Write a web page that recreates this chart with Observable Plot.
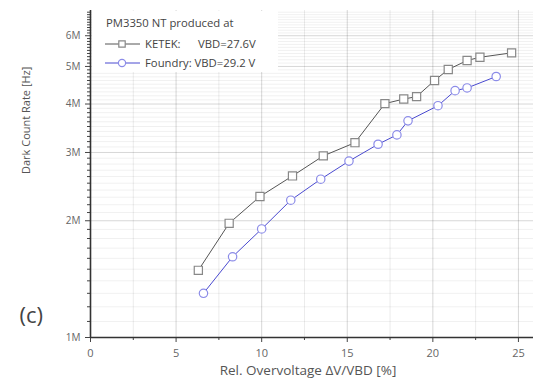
<!DOCTYPE html>
<html><head><meta charset="utf-8">
<script src="https://cdn.jsdelivr.net/npm/d3@7"></script>
<script src="https://cdn.jsdelivr.net/npm/@observablehq/plot@0.6"></script>
<style>
html,body{margin:0;padding:0;background:#fff;}
#chart svg{display:block;}
</style>
</head><body><div id="chart"></div>
<script>
// Data
const ketekX = [6.3, 8.1, 9.9, 11.8, 13.6, 15.45, 17.2, 18.3, 19.05, 20.1, 20.9, 22.0, 22.75, 24.6];
const ketekY = [1.49, 1.97, 2.31, 2.61, 2.94, 3.18, 4.01, 4.12, 4.18, 4.60, 4.91, 5.18, 5.28, 5.42]; // MHz
const foundryX = [6.6, 8.3, 10.0, 11.7, 13.45, 15.1, 16.8, 17.9, 18.55, 20.3, 21.3, 22.0, 23.7];
const foundryY = [1.30, 1.615, 1.905, 2.26, 2.56, 2.85, 3.15, 3.33, 3.62, 3.96, 4.33, 4.40, 4.71]; // MHz
const xTicks = [0, 5, 10, 15, 20, 25];
const yTicksM = [1, 2, 3, 4, 5, 6];
const legendTitle = "PM3350 NT produced at";
const seriesNames = ["KETEK:", "Foundry: VBD=29.2 V"];
const ketekVbd = "VBD=27.6V";
const xLabel = "Rel. Overvoltage \u0394V/VBD [%]";
const yLabel = "Dark Count Rate [Hz]";
const panelLabel = "(c)";

const ketek = ketekX.map((x, i) => ({x, y: ketekY[i] * 1e6}));
const foundry = foundryX.map((x, i) => ({x, y: foundryY[i] * 1e6}));
const yTicks = yTicksM.map(d => d * 1e6);
const yMinor = d3.range(10, 70).filter(d => d % 10 !== 0).map(d => d * 1e5);
const xMinor = [2.5, 7.5, 12.5, 17.5, 22.5];

const font = "'Open Sans', Lato, sans-serif";

const plot = Plot.plot({
  width: 533, height: 390,
  marginLeft: 90, marginRight: 0, marginTop: 10, marginBottom: 53,
  style: {fontFamily: font, background: "#fff", color: "#444"},
  x: {domain: [0, 25.88], label: null},
  y: {type: "log", domain: [1e6, 6.97e6], label: null},
  marks: [
    Plot.gridY(yMinor, {stroke: "#000", strokeOpacity: 0.06}),
    Plot.gridY(yTicks, {stroke: "#000", strokeOpacity: 0.16}),
    Plot.gridX(xMinor, {stroke: "#000", strokeOpacity: 0.08}),
    Plot.gridX(xTicks, {stroke: "#000", strokeOpacity: 0.16}),
    Plot.axisY(yMinor, {tickSize: 3, text: null, stroke: "#444"}),
    Plot.axisY(yTicks, {tickSize: 5, tickPadding: 5, fontSize: 10, tickFormat: d => (d / 1e6) + "M", stroke: "#444", fill: "#666"}),
    Plot.axisX(xMinor, {tickSize: 3, text: null, stroke: "#444"}),
    Plot.axisX(xTicks, {tickSize: 5, tickPadding: 7, fontSize: 11, stroke: "#444", fill: "#666"}),
    Plot.ruleX([0], {stroke: "#333", strokeWidth: 1.6}),
    Plot.ruleY([1e6], {stroke: "#333", strokeWidth: 1.6}),
    Plot.line(ketek, {x: "x", y: "y", stroke: "#555", strokeWidth: 1}),
    Plot.dot(ketek, {x: "x", y: "y", symbol: "square", r: 4.6, stroke: "#888", fill: "#fff", strokeWidth: 1.2}),
    Plot.line(foundry, {x: "x", y: "y", stroke: "#4a4ad0", strokeWidth: 1}),
    Plot.dot(foundry, {x: "x", y: "y", symbol: "circle", r: 4.2, stroke: "#8c8ce8", fill: "#fff", strokeWidth: 1.2}),
    Plot.text([yLabel], {frameAnchor: "left", dx: -64, rotate: -90, fontSize: 11, fill: "#555"}),
    Plot.text([xLabel], {frameAnchor: "bottom", dx: -4, dy: 37, fontSize: 13.5, fill: "#555"}),
    Plot.text([panelLabel], {frameAnchor: "bottom-left", dx: -71, dy: -15, fontSize: 22, fill: "#444"})
  ]
});

document.getElementById("chart").appendChild(plot);

// Legend (inside the plot, top-left)
const svg = d3.select(plot);
const g = svg.append("g").attr("font-family", font).attr("text-anchor", "start");
g.append("rect").attr("x", 92).attr("y", 11).attr("width", 186).attr("height", 61).attr("fill", "#fff");
g.append("text").attr("x", 106).attr("y", 27).attr("font-size", 11.3).attr("fill", "#444").text(legendTitle);
const rows = [
  {y: 44, stroke: "#555", mstroke: "#888", sym: d3.symbolSquare, text: seriesNames[0]},
  {y: 63, stroke: "#4a4ad0", mstroke: "#8c8ce8", sym: d3.symbolCircle, text: seriesNames[1]}
];
rows.forEach(r => {
  g.append("line").attr("x1", 105).attr("x2", 140).attr("y1", r.y).attr("y2", r.y).attr("stroke", r.stroke);
  g.append("path").attr("d", d3.symbol(r.sym, Math.PI * 3.6 * 3.6)()).attr("transform", `translate(122,${r.y})`)
    .attr("fill", "#fff").attr("stroke", r.mstroke).attr("stroke-width", 1.2);
  g.append("text").attr("x", 145).attr("y", r.y + 4).attr("font-size", 11.3).attr("fill", "#444").text(r.text);
});
g.append("text").attr("x", 198).attr("y", 48).attr("font-size", 11.3).attr("fill", "#444").text(ketekVbd);
</script>
</body></html>
